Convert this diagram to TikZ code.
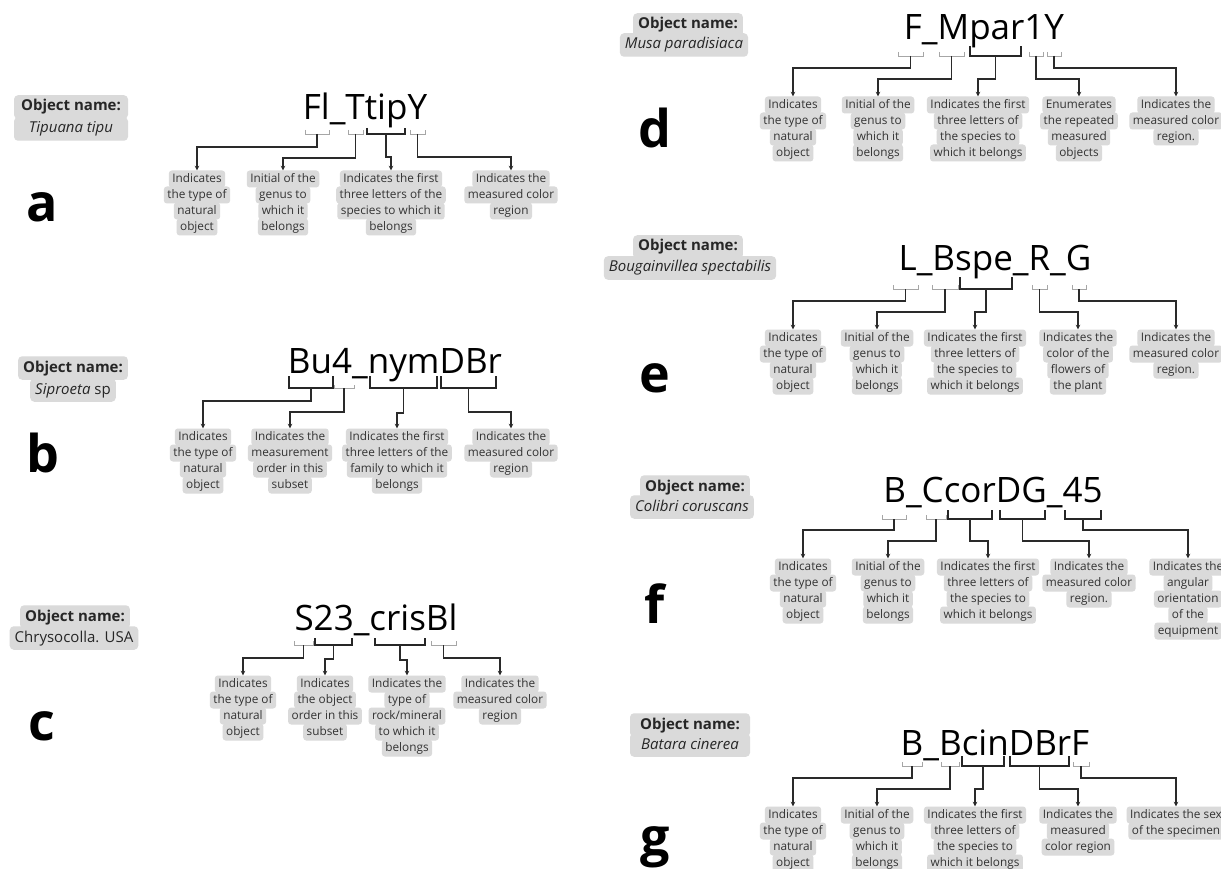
\documentclass[tikz,border=0pt]{standalone}
\usepackage{fontspec}
\setmainfont{Open Sans}
\usetikzlibrary{arrows.meta}
\definecolor{boxgray}{HTML}{DADADA}
\definecolor{txtgray}{HTML}{333333}
\definecolor{lngray}{HTML}{2A2A2A}
\tikzset{
 lbox/.style={fill=boxgray, rounded corners=3pt, inner xsep=3.5pt, inner ysep=0pt, minimum height=17pt, text height=8.8pt, text depth=2.4pt, text=txtgray, font=\fontsize{11.8}{13}\selectfont},
 obox/.style={fill=boxgray, rounded corners=4pt, inner xsep=5pt, inner ysep=0pt, minimum height=23.5pt, text height=11pt, text depth=3pt, text=black!85, font=\fontsize{15}{17}\selectfont},
 title/.style={font=\fontsize{35}{40}\selectfont, anchor=base, inner sep=0pt},
 letter/.style={font=\fontsize{52}{52}\selectfont\bfseries, anchor=base, inner sep=0pt},
 thinbr/.style={draw=gray!70, line width=0.7pt},
 thickbr/.style={draw=black!85, line width=1.1pt},
 conn/.style={draw=lngray, line width=1.1pt, -{Stealth[length=4.5pt,width=4.5pt]}},
}
\newcommand\tagbox[4]{%
  \foreach \txt [count=\i] in {#4} {
    \node[lbox] (#1-\i) at (#2,{#3+(\i-1)*16}) {\txt};
  }
}
\newcommand\brk[6]{%
  \draw[#6] (#2,#4-#5) -- (#2,#4) -- (#3,#4) -- (#3,#4-#5);
  \coordinate (#1) at ({(#2+#3)/2},#4);
}
\begin{document}
\begin{tikzpicture}[x=1pt,y=-1pt]
\clip (0,0) rectangle (1221,869);
\fill[white] (0,0) rectangle (1221,869);

% ---------------- panel a
\node[obox, minimum width=114pt] (oa1) at (71,107) {\bfseries Object name:};
\node[obox, minimum width=114pt] (oa2) at (71,129) {\itshape Tipuana tipu};
\node[letter] (la) at (42,222) {a};
\node[title] (ta) at (365,120) {Fl\_TtipY};
\tagbox{a1}{197}{179}{Indicates,the type of,natural,object}
\tagbox{a2}{283}{179}{Initial of the,genus to,which it,belongs}
\tagbox{a3}{391}{179}{Indicates the first,three letters of the,species to which it,belongs}
\tagbox{a4}{511}{179}{Indicates the,measured color,region}
\brk{ab1}{305}{329}{134}{4}{thinbr}
\brk{ab2}{348}{363}{134}{4}{thinbr}
\brk{ab3}{367}{405}{134}{6}{thickbr}
\brk{ab4}{410}{425}{134}{4}{thinbr}
\draw[conn] (ab1) -- ++(0,13) -| (a1-1.north);
\draw[conn] (ab2) -- ++(0,24) -| (a2-1.north);
\draw[conn] (ab3) -- ++(0,23) -| (a3-1.north);
\draw[conn] (ab4) -- ++(0,23) -| (a4-1.north);

% ---------------- panel b
\node[obox] (ob1) at (73,368) {\bfseries Object name:};
\node[obox] (ob2) at (73,390) {\textit{Siproeta} sp};
\node[letter] (lb) at (43,472) {b};
\node[title] (tb) at (395,373) {Bu4\_nymDBr};
\tagbox{b1}{203}{437}{Indicates,the type of,natural,object}
\tagbox{b2}{290}{437}{Indicates the,measurement,order in this,subset}
\tagbox{b3}{397}{437}{Indicates the first,three letters of the,family to which it,belongs}
\tagbox{b4}{511}{437}{Indicates the,measured color,region}
\brk{bb1}{289}{333}{388}{12}{thickbr}
\brk{bb2}{334}{354}{388}{3}{thinbr}
\brk{bb3}{370}{437}{388}{12}{thickbr}
\brk{bb4}{441}{496}{388}{12}{thickbr}
\draw[conn] (bb1) -- ++(0,13) -| (b1-1.north);
\draw[conn] (bb2) -- ++(0,24) -| (b2-1.north);
\draw[conn] (bb3) -- ++(0,25) -| (b3-1.north);
\draw[conn] (bb4) -- ++(0,24) -| (b4-1.north);

% ---------------- panel c
\node[obox] (oc1) at (75,617) {\bfseries Object name:};
\node[obox] (oc2) at (74,638) {Chrysocolla. USA};
\node[letter] (lc) at (42,740) {c};
\node[title] (tc) at (376,630) {S23\_crisBl};
\tagbox{c1}{243}{684}{Indicates,the type of,natural,object}
\tagbox{c2}{325}{684}{Indicates,the object,order in this,subset}
\tagbox{c3}{407}{684}{Indicates the,type of,rock/mineral,to which it,belongs}
\tagbox{c4}{500}{684}{Indicates the,measured color,region}
\brk{cb1}{294}{313}{645}{4}{thinbr}
\brk{cb2}{315}{352}{645}{7}{thickbr}
\brk{cb3}{375}{425}{645}{7}{thickbr}
\brk{cb4}{431}{456}{645}{4}{thinbr}
\draw[conn] (cb1) -- ++(0,13) -| (c1-1.north);
\draw[conn] (cb2) -- ++(0,14) -| (c2-1.north);
\draw[conn] (cb3) -- ++(0,15) -| (c3-1.north);
\draw[conn] (cb4) -- ++(0,13) -| (c4-1.north);

% ---------------- panel d
\node[obox] (od1) at (688,25) {\bfseries Object name:};
\node[obox] (od2) at (684,45) {\itshape Musa paradisiaca};
\node[letter] (ld) at (655,148) {d};
\node[title] (td) at (984,40) {F\_Mpar1Y};
\tagbox{d1}{793}{105}{Indicates,the type of,natural,object}
\tagbox{d2}{878}{105}{Initial of the,genus to,which it,belongs}
\tagbox{d3}{978}{105}{Indicates the first,three letters of,the species to,which it belongs}
\tagbox{d4}{1079}{105}{Enumerates,the repeated,measured,objects}
\tagbox{d5}{1176}{105}{Indicates the,measured color,region.}
\brk{db1}{898}{923}{56}{4}{thinbr}
\brk{db2}{939}{964}{56}{4}{thinbr}
\brk{db3}{970}{1021}{56}{10}{thickbr}
\brk{db4}{1029}{1043}{56}{4}{thinbr}
\brk{db5}{1047}{1061}{56}{4}{thinbr}
\draw[conn] (db1) -- ++(0,12) -| (d1-1.north);
\draw[conn] (db2) -- ++(0,23) -| (d2-1.north);
\draw[conn] (db3) -- ++(0,23) -| (d3-1.north);
\draw[conn] (db4) -- ++(0,23) -| (d4-1.north);
\draw[conn] (db5) -- ++(0,12) -| (d5-1.north);

% ---------------- panel e
\node[obox] (oe1) at (688,247) {\bfseries Object name:};
\node[obox] (oe2) at (690,268) {\itshape Bougainvillea spectabilis};
\node[letter] (le) at (655,392) {e};
\node[title] (te) at (995,270) {L\_Bspe\_R\_G};
\tagbox{e1}{793}{338}{Indicates,the type of,natural,object}
\tagbox{e2}{877}{338}{Initial of the,genus to,which it,belongs}
\tagbox{e3}{975}{338}{Indicates the first,three letters of,the species to,which it belongs}
\tagbox{e4}{1078}{338}{Indicates the,color of the,flowers of,the plant}
\tagbox{e5}{1176}{338}{Indicates the,measured color,region.}
\brk{eb1}{893}{918}{289}{4}{thinbr}
\brk{eb2}{932}{958}{289}{4}{thinbr}
\brk{eb3}{960}{1012}{289}{12}{thickbr}
\brk{eb4}{1032}{1047}{289}{4}{thinbr}
\brk{eb5}{1072}{1086}{289}{4}{thinbr}
\draw[conn] (eb1) -- ++(0,12) -| (e1-1.north);
\draw[conn] (eb2) -- ++(0,23) -| (e2-1.north);
\draw[conn] (eb3) -- ++(0,23) -| (e3-1.north);
\draw[conn] (eb4) -- ++(0,23) -| (e4-1.north);
\draw[conn] (eb5) -- ++(0,12) -| (e5-1.north);

% ---------------- panel f
\node[obox] (of1) at (695,487) {\bfseries Object name:};
\node[obox] (of2) at (692,507) {\itshape Colibri coruscans};
\node[letter] (lf) at (655,623) {f};
\node[title] (tf) at (993,502) {B\_CcorDG\_45};
\tagbox{f1}{803}{567}{Indicates,the type of,natural,object}
\tagbox{f2}{888}{567}{Initial of the,genus to,which it,belongs}
\tagbox{f3}{988}{567}{Indicates the first,three letters of,the species to,which it belongs}
\tagbox{f4}{1089}{567}{Indicates the,measured color,region.}
\tagbox{f5}{1188}{567}{Indicates the,angular,orientation,of the,equipment}
\brk{fb1}{882}{906}{519}{4}{thinbr}
\brk{fb2}{926}{946}{519}{4}{thinbr}
\brk{fb3}{948}{992}{519}{9}{thickbr}
\brk{fb4}{1000}{1045}{519}{9}{thickbr}
\brk{fb5}{1065}{1101}{519}{9}{thickbr}
\draw[conn] (fb1) -- ++(0,11) -| (f1-1.north);
\draw[conn] (fb2) -- ++(0,22) -| (f2-1.north);
\draw[conn] (fb3) -- ++(0,22) -| (f3-1.north);
\draw[conn] (fb4) -- ++(0,22) -| (f4-1.north);
\draw[conn] (fb5) -- ++(0,11) -| (f5-1.north);

% ---------------- panel g
\node[obox, minimum width=120pt] (og1) at (690,725) {\bfseries Object name:};
\node[obox, minimum width=120pt] (og2) at (690,745) {\itshape Batara cinerea};
\node[letter] (lg) at (655,855) {g};
\node[title] (tg) at (995,755) {B\_BcinDBrF};
\tagbox{g1}{793}{815}{Indicates,the type of,natural,object}
\tagbox{g2}{877}{815}{Initial of the,genus to,which it,belongs}
\tagbox{g3}{975}{815}{Indicates the first,three letters of,the species to,which it belongs}
\tagbox{g4}{1078}{815}{Indicates the,measured,color region}
\tagbox{g5}{1176}{815}{Indicates the sex,of the specimen}
\brk{gb1}{902}{922}{766}{4}{thinbr}
\brk{gb2}{941}{959}{766}{4}{thinbr}
\brk{gb3}{962}{1004}{766}{10}{thickbr}
\brk{gb4}{1010}{1069}{766}{10}{thickbr}
\brk{gb5}{1073}{1089}{766}{4}{thinbr}
\draw[conn] (gb1) -- ++(0,12) -| (g1-1.north);
\draw[conn] (gb2) -- ++(0,23) -| (g2-1.north);
\draw[conn] (gb3) -- ++(0,23) -| (g3-1.north);
\draw[conn] (gb4) -- ++(0,23) -| (g4-1.north);
\draw[conn] (gb5) -- ++(0,12) -| (g5-1.north);
\end{tikzpicture}
\end{document}
